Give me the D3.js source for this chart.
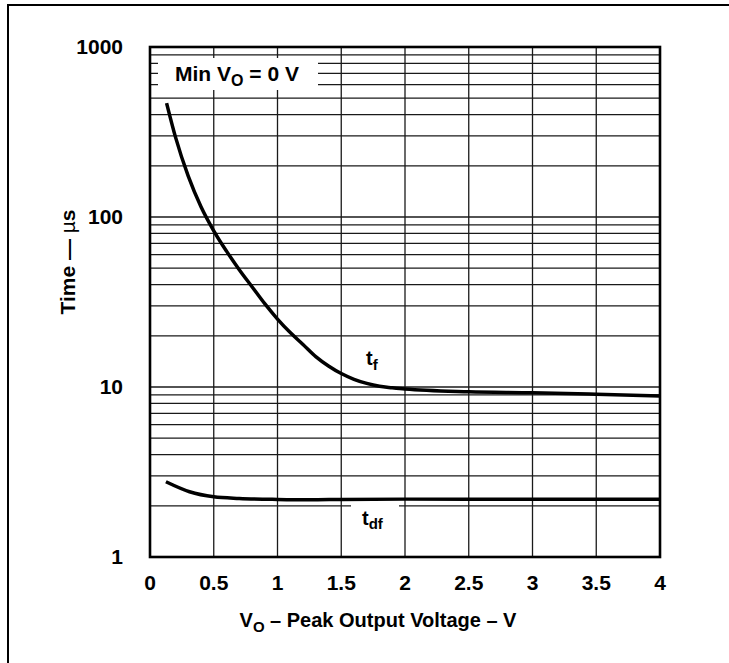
<!DOCTYPE html>
<html><head><meta charset="utf-8">
<script src="https://cdn.jsdelivr.net/npm/d3@7"></script>
<style>
html,body{margin:0;padding:0;background:#fff;overflow:hidden}
svg{display:block}
text{font-family:"Liberation Sans",Arial,Helvetica,sans-serif;font-weight:bold;fill:#000}
</style>
</head><body><svg id="c" width="729" height="663"></svg>
<script>
const xTicks = [0, 0.5, 1, 1.5, 2, 2.5, 3, 3.5, 4];
const xTickLabels = ["0", "0.5", "1", "1.5", "2", "2.5", "3", "3.5", "4"];
const yTicks = [1, 10, 100, 1000];
const yTickLabels = ["1", "10", "100", "1000"];
const tfX = [0.13, 0.2, 0.3, 0.4, 0.5, 0.6, 0.7, 0.8, 0.9, 1.0, 1.1, 1.2, 1.3, 1.4, 1.5, 1.6, 1.7, 1.8, 1.9, 2.0, 2.5, 3.0, 3.5, 4.0];
const tfY = [468, 295, 174, 115, 83, 63, 49, 38.9, 30.9, 25.1, 20.9, 17.8, 15.1, 13.3, 12.0, 11.1, 10.5, 10.1, 9.9, 9.73, 9.38, 9.25, 9.06, 8.85];
const tdfX = [0.125, 0.31, 0.5, 0.7, 1.0, 1.25, 1.5, 2.0, 2.5, 3.0, 3.5, 4.0];
const tdfY = [2.77, 2.42, 2.26, 2.21, 2.18, 2.17, 2.18, 2.19, 2.19, 2.19, 2.19, 2.19];

const svg = d3.select("#c");
const L = 150, R = 660, T = 47, B = 557;
const x = d3.scaleLinear().domain([0, 4]).range([L, R]);
const y = d3.scaleLog().domain([1, 1000]).range([B, T]);

// outer frame (left/top visible)
svg.append("rect").attr("x", 8).attr("y", 5).attr("width", 800).attr("height", 800)
  .attr("fill", "none").attr("stroke", "#000").attr("stroke-width", 2);

// gridlines
const hVals = [];
[1, 10, 100].forEach(d => { for (let m = 2; m <= 10; m++) hVals.push(d * m); });
const g = svg.append("g").attr("stroke", "#1a1a1a").attr("stroke-width", 1.3);
g.selectAll("line.h").data(hVals.filter(v => v < 1000)).enter().append("line")
  .attr("x1", L).attr("x2", R).attr("y1", d => y(d)).attr("y2", d => y(d));
g.selectAll("line.v").data(xTicks.filter(v => v > 0 && v < 4)).enter().append("line")
  .attr("y1", T).attr("y2", B).attr("x1", d => x(d)).attr("x2", d => x(d));

// label boxes (mask gridlines)
svg.append("rect").attr("x", 158).attr("y", 58).attr("width", 160).attr("height", 32).attr("fill", "#fff");
svg.append("rect").attr("x", 351).attr("y", 502).attr("width", 48).attr("height", 12).attr("fill", "#fff");

// curves
const line = d3.line().curve(d3.curveMonotoneX).x(d => x(d[0])).y(d => y(d[1]));
svg.append("path").datum(tfX.map((v, i) => [v, tfY[i]])).attr("d", line)
  .attr("fill", "none").attr("stroke", "#000").attr("stroke-width", 3.5);
svg.append("path").datum(tdfX.map((v, i) => [v, tdfY[i]])).attr("d", line)
  .attr("fill", "none").attr("stroke", "#000").attr("stroke-width", 3.5);

// legend text
const lt = svg.append("text").attr("x", 175).attr("y", 81).style("font-size", "21px");
lt.append("tspan").text("Min V");
lt.append("tspan").text("O").style("font-size", "16px").attr("dy", 5);
lt.append("tspan").text(" = 0 V").attr("dy", -5);

// curve labels
const tf = svg.append("text").attr("x", 366).attr("y", 365).style("font-size", "20px");
tf.append("tspan").text("t");
tf.append("tspan").text("f").style("font-size", "15px").attr("dy", 5);
const tdf = svg.append("text").attr("x", 362).attr("y", 525).style("font-size", "20px");
tdf.append("tspan").text("t");
tdf.append("tspan").text("df").style("font-size", "15px").attr("dy", 4);

// border
svg.append("rect").attr("x", L).attr("y", T).attr("width", R - L).attr("height", B - T)
  .attr("fill", "none").attr("stroke", "#000").attr("stroke-width", 2.6);

// tick labels
svg.selectAll("text.xt").data(xTicks).enter().append("text")
  .attr("x", d => x(d)).attr("y", 590).attr("text-anchor", "middle")
  .style("font-size", "21px").text((d, i) => xTickLabels[i]);
svg.selectAll("text.yt").data(yTicks).enter().append("text")
  .attr("x", 123).attr("y", d => y(d) + 7).attr("text-anchor", "end")
  .style("font-size", "21px").text((d, i) => yTickLabels[i]);

// axis titles
const xt = svg.append("text").attr("x", 378).attr("y", 627).attr("text-anchor", "middle").style("font-size", "20px");
xt.append("tspan").text("V");
xt.append("tspan").text("O").style("font-size", "15px").attr("dy", 5);
xt.append("tspan").text(" \u2013 Peak Output Voltage \u2013 V").attr("dy", -5);

const yt = svg.append("text").attr("transform", "translate(75,262) rotate(-90)")
  .attr("text-anchor", "middle").style("font-size", "21px");
yt.append("tspan").text("Time \u2014 ");
yt.append("tspan").text("\u00b5").style("font-weight", "normal");
yt.append("tspan").text("s");
</script></body></html>
